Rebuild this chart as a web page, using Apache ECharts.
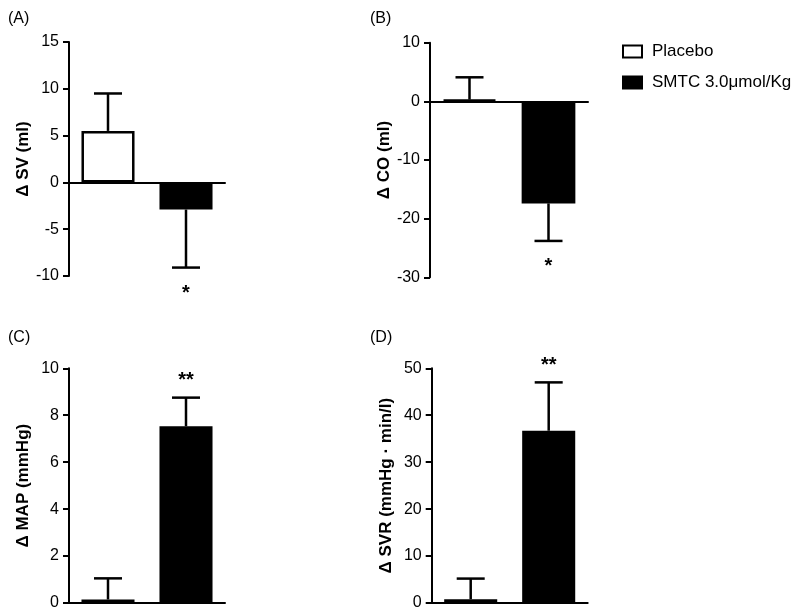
<!DOCTYPE html>
<html>
<head>
<meta charset="utf-8">
<script src="https://cdn.jsdelivr.net/npm/echarts@6/dist/echarts.min.js"></script>
<style>html,body{margin:0;padding:0;background:#fff;}#c{width:800px;height:615px;}</style>
</head>
<body>
<div id="c"></div>
<script>
const panelLabels = ['(A)', '(B)', '(C)', '(D)'];
const yTitles = ['Δ SV (ml)', 'Δ CO (ml)', 'Δ MAP (mmHg)', 'Δ SVR (mmHg · min/l)'];
const groups = ['Placebo', 'SMTC 3.0μmol/Kg'];
const placeboMean = [5.5, 0.3, 0.15, 0.8];
const placeboErr = [4.0, 3.8, 0.9, 4.4];
const smtcMean = [-2.9, -17.4, 7.53, 36.7];
const smtcErr = [6.2, 6.4, 1.22, 10.3];
const yMin = [-10, -30, 0, 0];
const yMax = [15, 10, 10, 50];
const yInterval = [5, 10, 2, 10];
const sigMarks = ['*', '*', '**', '**'];

const FONT = '"Liberation Sans", Arial, sans-serif';
const gridBoxes = [
  {left: 69, top: 42, width: 156, height: 234},
  {left: 430, top: 42.7, width: 158, height: 234.6},
  {left: 69, top: 368.3, width: 156, height: 234.7},
  {left: 431.7, top: 368.3, width: 156, height: 234.7}
];
const labelPos = [[8, 11], [370, 11], [8, 330], [370, 330]];

const grids = [], xAxes = [], yAxes = [], series = [], titles = [];
for (let i = 0; i < 4; i++) {
  grids.push(Object.assign({containLabel: false}, gridBoxes[i]));
  xAxes.push({
    type: 'category', gridIndex: i, data: groups,
    axisLine: {onZero: true, lineStyle: {color: '#000', width: 2}},
    axisTick: {show: false}, axisLabel: {show: false}, splitLine: {show: false}
  });
  yAxes.push({
    type: 'value', gridIndex: i, min: yMin[i], max: yMax[i], interval: yInterval[i],
    name: yTitles[i], nameLocation: 'middle', nameGap: 37, nameRotate: 90,
    nameTextStyle: {fontFamily: FONT, fontSize: 17, fontWeight: 'bold', color: '#000'},
    axisLine: {show: true, lineStyle: {color: '#000', width: 2}},
    axisTick: {show: true, length: 6, lineStyle: {color: '#000', width: 2}},
    axisLabel: {fontFamily: FONT, fontSize: 16, color: '#000', margin: 10},
    splitLine: {show: false}
  });
  series.push({
    type: 'bar', name: groups[0], xAxisIndex: i, yAxisIndex: i, stack: 's' + i,
    barWidth: '68%',
    data: [placeboMean[i], '-'],
    itemStyle: {color: '#fff', borderColor: '#000', borderWidth: 2.5},
    emphasis: {disabled: true}
  });
  series.push({
    type: 'bar', name: groups[1], xAxisIndex: i, yAxisIndex: i, stack: 's' + i,
    barWidth: '68%',
    data: ['-', smtcMean[i]],
    itemStyle: {color: '#000', borderColor: '#000', borderWidth: 2.5},
    emphasis: {disabled: true}
  });
  const errData = [
    [0, placeboMean[i], placeboMean[i] + Math.sign(placeboMean[i]) * placeboErr[i], ''],
    [1, smtcMean[i], smtcMean[i] + Math.sign(smtcMean[i]) * smtcErr[i], sigMarks[i]]
  ];
  series.push({
    type: 'custom', xAxisIndex: i, yAxisIndex: i, z: 5, clip: false,
    encode: {x: 0, y: [1, 2]},
    data: errData,
    renderItem: function (params, api) {
      const x = api.value(0), m = api.value(1), e = api.value(2);
      const p0 = api.coord([x, m]);
      const p1 = api.coord([x, e]);
      const half = 14;
      const up = e >= m;
      const children = [
        {type: 'line', shape: {x1: p0[0], y1: p0[1], x2: p1[0], y2: p1[1]}, style: {stroke: '#000', lineWidth: 2.5}},
        {type: 'line', shape: {x1: p1[0] - half, y1: p1[1], x2: p1[0] + half, y2: p1[1]}, style: {stroke: '#000', lineWidth: 2.5}}
      ];
      const mark = errData[params.dataIndex][3];
      if (mark) {
        children.push({
          type: 'text',
          style: {
            text: mark, x: p1[0], y: p1[1] + (up ? -17 : 26),
            align: 'center', verticalAlign: 'middle',
            font: 'bold 20px ' + FONT, fill: '#000'
          }
        });
      }
      return {type: 'group', children: children};
    }
  });
  titles.push({
    text: panelLabels[i], left: labelPos[i][0], top: labelPos[i][1], padding: 0,
    textStyle: {fontFamily: FONT, fontSize: 16, fontWeight: 'normal', color: '#000'}
  });
}

const chart = echarts.init(document.getElementById('c'), null, {renderer: 'canvas'});
chart.setOption({
  backgroundColor: '#fff',
  animation: false,
  title: titles,
  legend: {
    orient: 'vertical', left: 622, top: 43, padding: 0, itemWidth: 19, itemHeight: 12, itemGap: 14,
    icon: 'rect', selectedMode: false,
    textStyle: {fontFamily: FONT, fontSize: 17, color: '#000', padding: [0, 0, 0, 5]},
    data: [
      {name: groups[0], itemStyle: {color: '#fff', borderColor: '#000', borderWidth: 2}},
      {name: groups[1], itemStyle: {color: '#000', borderColor: '#000', borderWidth: 2}}
    ]
  },
  grid: grids,
  xAxis: xAxes,
  yAxis: yAxes,
  series: series
});
</script>
</body>
</html>
